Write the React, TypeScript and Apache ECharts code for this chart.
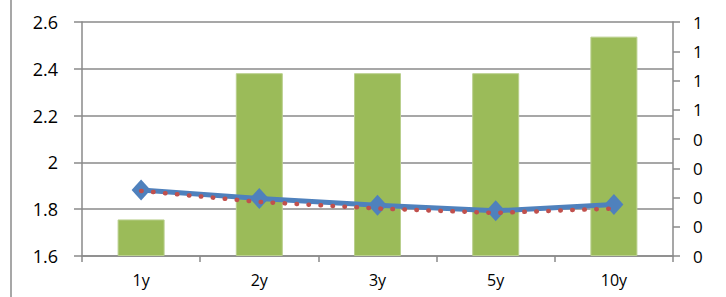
import React, { useEffect, useRef } from "react";
import * as echarts from "echarts";

const categories = ["1y", "2y", "3y", "5y", "10y"];
const barValues = [0.25, 1.25, 1.25, 1.25, 1.5];
const blueValues = [1.882, 1.846, 1.817, 1.793, 1.82];
const redValues = [1.878, 1.831, 1.803, 1.784, 1.803];
const leftTicks = { min: 1.6, max: 2.6, interval: 0.2 };
const rightTicks = { min: 0, max: 1.6, interval: 0.2 };

const FONT = "Open Sans";
const GRAY = "#8a8a8a";

export default function App() {
  const ref = useRef<HTMLDivElement>(null);
  useEffect(() => {
    if (!ref.current) return;
    const chart = echarts.init(ref.current, undefined, { renderer: "svg" });
    chart.setOption({
      animation: false,
      backgroundColor: "#ffffff",
      grid: {
        left: 82,
        right: 53,
        top: 22,
        bottom: 41,
        containLabel: false,
        outerBoundsMode: "none",
      },
      graphic: [
        {
          type: "line",
          shape: { x1: 11, y1: 0, x2: 11, y2: 297 },
          style: { stroke: GRAY, lineWidth: 1.5 },
        },
      ],
      xAxis: {
        type: "category",
        data: categories,
        boundaryGap: true,
        axisLine: { show: true, lineStyle: { color: GRAY, width: 1.5 } },
        axisTick: { show: true, alignWithLabel: false, length: 6, lineStyle: { color: GRAY, width: 1.5 } },
        axisLabel: { color: "#000", fontFamily: FONT, fontSize: 16, margin: 16 },
      },
      yAxis: [
        {
          type: "value",
          min: leftTicks.min,
          max: leftTicks.max,
          interval: leftTicks.interval,
          position: "left",
          axisLine: { show: true, lineStyle: { color: GRAY, width: 1.5 } },
          axisTick: { show: true, length: 8, lineStyle: { color: GRAY, width: 1.5 } },
          splitLine: { show: true, lineStyle: { color: GRAY, width: 1.5 } },
          axisLabel: {
            color: "#000",
            fontFamily: FONT,
            fontSize: 18,
            margin: 24,
            formatter: (v: number) => String(Math.round(v * 10) / 10),
          },
        },
        {
          type: "value",
          min: rightTicks.min,
          max: rightTicks.max,
          interval: rightTicks.interval,
          position: "right",
          axisLine: { show: true, lineStyle: { color: GRAY, width: 1.5 } },
          axisTick: { show: true, length: 7, lineStyle: { color: GRAY, width: 1.5 } },
          splitLine: { show: false },
          axisLabel: {
            color: "#000",
            fontFamily: FONT,
            fontSize: 17,
            margin: 20,
            // the reference shows only the leading digit of each right-axis label
            formatter: (v: number) => String(Math.floor(Math.round(v * 10) / 10)),
          },
        },
      ],
      series: [
        {
          type: "bar",
          yAxisIndex: 1,
          data: barValues,
          barWidth: 47,
          itemStyle: { color: "#9BBB59", borderColor: "#b9cf8d", borderWidth: 1 },
          z: 1,
        },
        {
          type: "line",
          yAxisIndex: 0,
          data: blueValues,
          symbol: "diamond",
          symbolSize: [19, 21],
          itemStyle: { color: "#4F81BD" },
          lineStyle: { color: "#4F81BD", width: 5 },
          z: 3,
        },
        {
          type: "line",
          yAxisIndex: 0,
          data: redValues,
          symbol: "none",
          lineStyle: { color: "#C0504D", width: 4.5, type: [0.5, 11.5], cap: "round" },
          z: 4,
        },
      ],
    });
    return () => chart.dispose();
  }, []);
  return (
    <div
      ref={ref}
      style={{ position: "fixed", left: 0, top: 0, width: 726, height: 297, background: "#fff" }}
    />
  );
}
